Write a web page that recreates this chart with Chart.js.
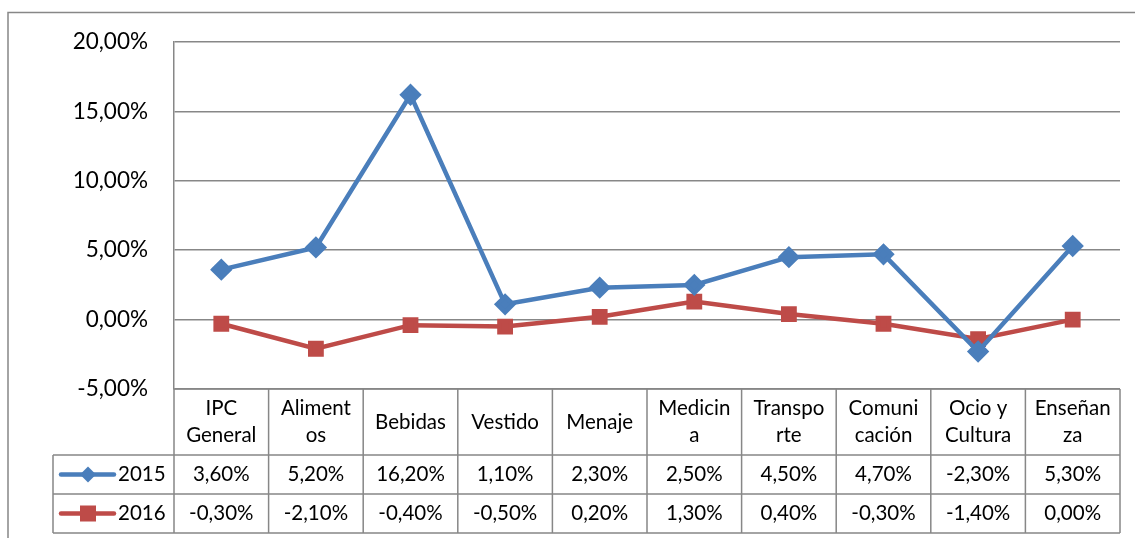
<!DOCTYPE html>
<html>
<head>
<meta charset="utf-8">
<script src="https://cdn.jsdelivr.net/npm/chart.js@4"></script>
<style>
html,body{margin:0;padding:0;background:#fff;}
#wrap{width:1135px;height:538px;position:relative;}
</style>
</head>
<body>
<div id="wrap"><canvas id="c" width="1135" height="538"></canvas></div>
<script>
const categories = [["IPC","General"],["Aliment","os"],["Bebidas"],["Vestido"],["Menaje"],["Medicin","a"],["Transpo","rte"],["Comuni","cación"],["Ocio y","Cultura"],["Enseñan","za"]];
const seriesNames = ["2015","2016"];
const values2015 = [3.6, 5.2, 16.2, 1.1, 2.3, 2.5, 4.5, 4.7, -2.3, 5.3];
const values2016 = [-0.3, -2.1, -0.4, -0.5, 0.2, 1.3, 0.4, -0.3, -1.4, 0.0];
const yMin = -5, yMax = 20, yStep = 5;

const FONT = "Lato, 'Liberation Sans', sans-serif";
const GRID = '#878787';
const BLUE = '#4a7ebb';
const RED = '#be4b48';

function fmt(v){ return v.toFixed(2).replace('.', ',') + '%'; }

const tablePlugin = {
  id: 'dataTable',
  afterDraw(chart){
    const ctx = chart.ctx;
    const ca = chart.chartArea;
    const xs = chart.scales.x;
    const n = categories.length;
    const colW = (ca.right - ca.left) / n;
    const top = ca.bottom;
    const hdrH = 66, rowH = 39;
    const legLeft = 53;
    const r1 = top + hdrH, r2 = r1 + rowH, r3 = r2 + rowH;
    ctx.save();
    // outer border
    ctx.strokeStyle = GRID; ctx.lineWidth = 1.5;
    ctx.beginPath();
    ctx.moveTo(8, 538); ctx.lineTo(8, 12.5); ctx.lineTo(1135, 12.5);
    ctx.stroke();
    // table lines
    ctx.lineWidth = 1.5;
    ctx.beginPath();
    ctx.moveTo(ca.left, top); ctx.lineTo(ca.right, top);
    [r1, r2, r3].forEach(y => { ctx.moveTo(legLeft, y); ctx.lineTo(ca.right, y); });
    ctx.moveTo(legLeft, r1); ctx.lineTo(legLeft, r3);
    for (let i = 0; i <= n; i++) {
      const x = ca.left + i * colW;
      ctx.moveTo(x, top); ctx.lineTo(x, r3);
    }
    ctx.stroke();
    // header text
    ctx.fillStyle = '#000';
    ctx.textAlign = 'center'; ctx.textBaseline = 'middle';
    ctx.font = '20.5px ' + FONT;
    categories.forEach((lab, i) => {
      const cx = xs.getPixelForValue(i);
      const lines = Array.isArray(lab) ? lab : [lab];
      const lh = 27;
      const y0 = top + hdrH / 2 - (lines.length - 1) * lh / 2;
      lines.forEach((t, k) => ctx.fillText(t, cx, y0 + k * lh));
    });
    // data rows
    [values2015, values2016].forEach((vals, r) => {
      const cy = (r === 0 ? r1 : r2) + rowH / 2;
      vals.forEach((v, i) => ctx.fillText(fmt(v), xs.getPixelForValue(i), cy));
    });
    // legend keys
    const keys = [{c: BLUE, s: 'rectRot', y: r1 + rowH/2, t: seriesNames[0]}, {c: RED, s: 'rect', y: r2 + rowH/2, t: seriesNames[1]}];
    keys.forEach(k => {
      ctx.strokeStyle = k.c; ctx.lineWidth = 4.5; ctx.lineCap = 'round';
      ctx.beginPath(); ctx.moveTo(61, k.y); ctx.lineTo(114, k.y); ctx.stroke();
      ctx.fillStyle = k.c;
      if (k.s === 'rect') { ctx.fillRect(80, k.y - 8, 16, 16); }
      else { ctx.beginPath(); ctx.moveTo(88, k.y - 8); ctx.lineTo(96, k.y); ctx.lineTo(88, k.y + 8); ctx.lineTo(80, k.y); ctx.closePath(); ctx.fill(); }
      ctx.fillStyle = '#000'; ctx.textAlign = 'left';
      ctx.fillText(k.t, 118, k.y);
    });
    ctx.restore();
  }
};

new Chart(document.getElementById('c'), {
  type: 'line',
  data: {
    labels: categories,
    datasets: [
      { label: seriesNames[0], data: values2015, borderColor: BLUE, backgroundColor: BLUE, borderWidth: 4.5, pointStyle: 'rectRot', pointRadius: 8, pointHoverRadius: 8, tension: 0 },
      { label: seriesNames[1], data: values2016, borderColor: RED, backgroundColor: RED, borderWidth: 4.5, pointStyle: 'rect', pointRadius: 8, pointHoverRadius: 8, tension: 0 }
    ]
  },
  options: {
    responsive: false,
    animation: false,
    devicePixelRatio: 1,
    layout: { padding: { left: 8, top: 42, right: 15, bottom: 149 } },
    plugins: { legend: { display: false }, tooltip: { enabled: false } },
    scales: {
      x: {
        offset: true,
        ticks: { display: false },
        grid: { display: false, drawTicks: false },
        border: { display: false }
      },
      y: {
        min: yMin, max: yMax,
        afterFit(s){ s.width = 166; },
        ticks: { stepSize: yStep, padding: 26, color: '#000', font: { family: FONT, size: 22.5 }, callback: v => fmt(v) },
        grid: { color: GRID, lineWidth: 1.5, drawTicks: false },
        border: { display: true, color: GRID, width: 1.5 }
      }
    }
  },
  plugins: [tablePlugin]
});
</script>
</body>
</html>
